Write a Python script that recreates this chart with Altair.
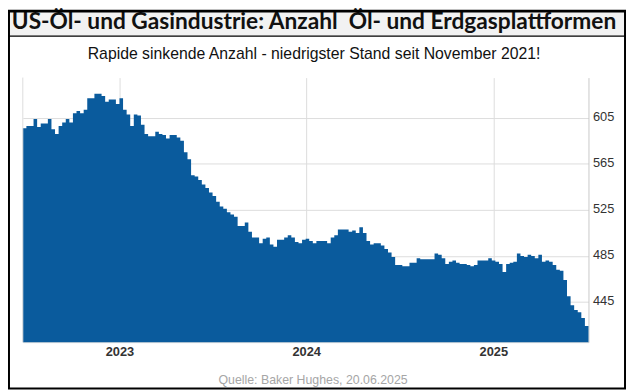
import altair as alt
import pandas as pd

TITLE = "US-Öl- und Gasindustrie: Anzahl \u00a0Öl- und Erdgasplattformen"
SUBTITLE = "Rapide sinkende Anzahl - niedrigster Stand seit November 2021!"
SOURCE = "Quelle: Baker Hughes, 20.06.2025"

# weekly rig counts (first week starts 2022-06-26)
start_date = "2022-06-26"
rigs_2022_23 = [596, 598, 598, 604, 597, 600, 600, 604, 595, 591, 598, 601, 604, 601,
                609, 611, 609, 612, 622, 622, 626, 626, 624, 619, 621, 621, 617, 622,
                612, 608, 598, 608, 607, 599, 591, 589, 589, 593, 591, 590, 587, 590,
                590, 588, 585, 575, 569, 555, 554, 551, 547, 544, 540, 537]
rigs_2023_24 = [532, 528, 526, 523, 521, 519, 511, 511, 514, 506, 501, 501, 496, 500,
                501, 495, 493, 499, 499, 501, 503, 501, 497, 496, 499, 500, 498, 496,
                498, 498, 498, 496, 501, 503, 508, 508, 508, 506, 507, 505, 510, 505,
                498, 495, 496, 496, 494, 491, 488, 484]
rigs_2024_25 = [477, 477, 476, 476, 479, 479, 483, 482, 482, 482, 482, 487, 486, 483,
                478, 480, 481, 479, 478, 478, 477, 476, 477, 481, 481, 481, 483, 481,
                480, 478, 471, 478, 479, 480, 487, 485, 484, 486, 485, 483, 486, 480,
                481, 480, 477, 473, 472, 464, 450, 442, 438, 436, 431, 424]
y_ticks = [445, 485, 525, 565, 605]
x_tick_years = [2023, 2024, 2025]
y_domain = [410, 640]

rigs = rigs_2022_23 + rigs_2023_24 + rigs_2024_25
dates = pd.date_range(start_date, periods=len(rigs) + 1, freq="7D")
df = pd.DataFrame({"date": dates, "rigs": rigs + [rigs[-1]]})

BLUE = "#0a5b9d"
GRID = "#dcdcdc"
FONT = "Liberation Sans"
W, H = 573, 268


def dt(ts):
    return alt.DateTime(year=int(ts.year), month=int(ts.month), date=int(ts.day))


area = alt.Chart(df).mark_area(interpolate="step-after", color=BLUE).encode(
    x=alt.X("date:T",
            scale=alt.Scale(domain=[dt(dates[0]), dt(dates[-1])], nice=False),
            axis=alt.Axis(values=[alt.DateTime(year=y, month=1, date=1) for y in x_tick_years],
                          format="%Y", grid=True, gridColor=GRID, ticks=False,
                          domainColor=GRID, labelPadding=4, labelFont=FONT,
                          labelFontSize=13, labelFontWeight="bold", labelColor="#333333"),
            title=None),
    y=alt.Y("rigs:Q",
            scale=alt.Scale(domain=y_domain, nice=False, zero=False),
            axis=alt.Axis(orient="right", values=y_ticks, grid=True, gridColor=GRID,
                          ticks=False, domainColor="#c8c8c8", labelPadding=4,
                          labelFont=FONT, labelFontSize=13, labelColor="#333333",
                          labelOffset=-1),
            title=None),
    y2=alt.datum(y_domain[0]),
)

one = alt.Data(values=[{"a": 1}])

left_line = alt.Chart(one).mark_rule(color=GRID).encode(
    x=alt.value(0), y=alt.value(0), y2=alt.value(H))

band = alt.Chart(one).mark_rect(fill="#f2f2f2", stroke="black", strokeWidth=1.5).encode(
    x=alt.value(-15), x2=alt.value(611), y=alt.value(-68), y2=alt.value(-42))

title = alt.Chart(one).mark_text(font="Lato", fontSize=23, fontWeight="bold",
                                 color="#111111", baseline="middle", align="center").encode(
    x=alt.value(295), y=alt.value(-56), text=alt.value(TITLE))

subtitle = alt.Chart(one).mark_text(font=FONT, fontSize=16, color="#111111",
                                    baseline="middle", align="center").encode(
    x=alt.value(295), y=alt.value(-24), text=alt.value(SUBTITLE))

source = alt.Chart(one).mark_text(font=FONT, fontSize=12.5, color="#a6a6a6",
                                  baseline="middle", align="center").encode(
    x=alt.value(294), y=alt.value(306), text=alt.value(SOURCE))

frame = alt.Chart(one).mark_rect(fillOpacity=0, stroke="black", strokeWidth=2).encode(
    x=alt.value(-14), x2=alt.value(610), y=alt.value(-67), y2=alt.value(315))

chart = alt.layer(area, left_line, band, title, subtitle, source, frame).properties(
    width=W, height=H, autosize="none",
    padding={"left": 15, "top": 68, "right": 38, "bottom": 48},
    background="white",
).configure_view(stroke=None)

chart.save("out.html", embed_options={"renderer": "svg", "actions": False})
